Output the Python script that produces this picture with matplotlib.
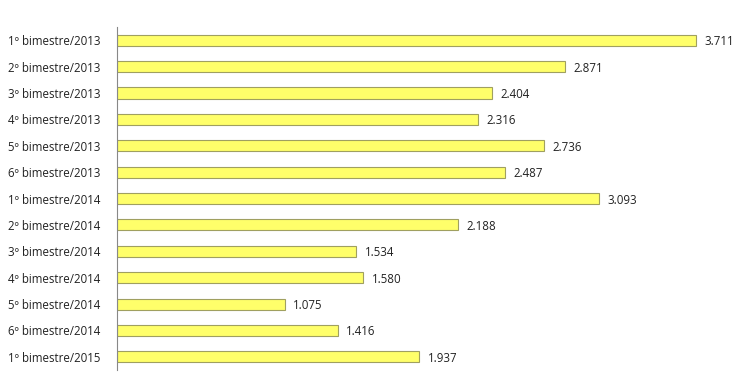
import matplotlib
matplotlib.use('Agg')
import matplotlib.pyplot as plt

# Dados do gráfico
periodos = ['1º bimestre/2013', '2º bimestre/2013', '3º bimestre/2013',
            '4º bimestre/2013', '5º bimestre/2013', '6º bimestre/2013',
            '1º bimestre/2014', '2º bimestre/2014', '3º bimestre/2014',
            '4º bimestre/2014', '5º bimestre/2014', '6º bimestre/2014',
            '1º bimestre/2015']
valores = [3711, 2871, 2404, 2316, 2736, 2487, 3093, 2188, 1534, 1580,
           1075, 1416, 1937]

plt.rcParams['font.family'] = ['Open Sans', 'DejaVu Sans']

fig = plt.figure(figsize=(7.56, 3.8), dpi=100)
ax = fig.add_axes([0.1548, 0.0263, 0.825, 0.9026])

pos = list(range(len(periodos)))
barras = ax.barh(pos, valores, height=0.42, color='#FFFF6A',
                 edgecolor='#A0A060', linewidth=0.8)

for b, v in zip(barras, valores):
    txt = '{:,}'.format(v).replace(',', '.')
    ax.text(b.get_width() + 55, b.get_y() + b.get_height() / 2, txt,
            va='center_baseline', ha='left', fontsize=8.3, color='#222222')

ax.set_xlim(0, 4000)
ax.set_ylim(len(periodos) - 0.5, -0.5)
ax.set_yticks(pos)
ax.set_yticklabels(periodos, fontsize=8.3, color='#222222',
                   va='center_baseline')
ax.tick_params(axis='y', length=0, pad=12)
ax.set_xticks([])

for s in ['top', 'right', 'bottom']:
    ax.spines[s].set_visible(False)
ax.spines['left'].set_color('#888888')
ax.spines['left'].set_linewidth(0.8)

fig.savefig('out.png', dpi=100)
